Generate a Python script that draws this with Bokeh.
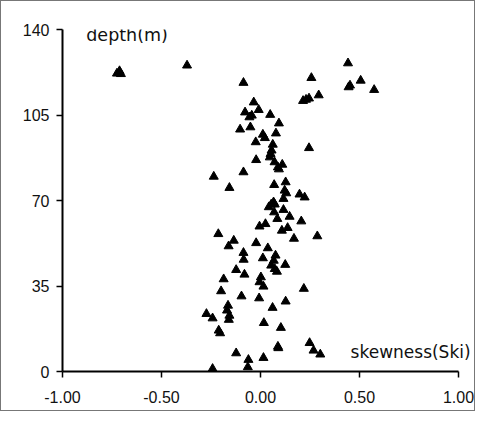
from bokeh.plotting import figure
from bokeh.models import Range1d, FixedTicker, Label, PrintfTickFormatter
from bokeh.embed import file_html
from bokeh.resources import INLINE

# skewness (Ski) values and their depth (m)
skew = [-0.725, -0.712, -0.705, -0.371, 0.442, 0.257, 0.506, 0.452, 0.445, 0.574,
        -0.086, 0.294, 0.215, 0.230, 0.245, -0.034, -0.078, -0.009, -0.056, -0.044,
        0.049, 0.093, -0.103, -0.051, 0.078, 0.012, 0.022, -0.024, 0.062, 0.245,
        0.056, 0.051, 0.047, -0.022, 0.071, 0.088, 0.110, 0.093, -0.236, -0.086,
        -0.157, 0.069, 0.127, 0.122, 0.130, 0.116, 0.197, 0.223, 0.066, 0.054,
        0.042, 0.072, 0.116, 0.069, 0.085, 0.147, 0.206, -0.005, 0.025, 0.108,
        0.137, -0.213, 0.287, 0.169, -0.135, -0.161, -0.022, 0.037, -0.086, -0.085,
        0.076, 0.067, 0.012, 0.054, 0.072, 0.083, 0.125, -0.123, -0.081, -0.186,
        0.002, -0.005, 0.015, 0.219, -0.199, -0.096, -0.007, 0.127, -0.164, -0.169,
        -0.157, -0.160, 0.061, -0.273, -0.242, 0.017, 0.103, -0.211, -0.204, 0.248,
        0.268, 0.302, 0.088, 0.090, -0.123, 0.015, -0.061, -0.064, -0.242]
depth = [122.0, 123.0, 121.8, 125.3, 126.2, 120.2, 119.1, 117.1, 116.4, 115.3,
         118.2, 113.1, 110.8, 111.3, 111.8, 110.2, 106.1, 107.1, 104.1, 104.8,
         105.1, 101.6, 99.1, 100.0, 97.5, 97.0, 95.6, 93.9, 92.9, 91.5,
         90.5, 89.1, 87.7, 86.6, 85.7, 83.6, 84.7, 82.8, 79.8, 81.6,
         75.2, 76.4, 77.5, 74.1, 73.0, 70.7, 72.5, 71.3, 69.3, 68.4,
         67.3, 68.4, 66.2, 65.2, 62.5, 63.4, 61.5, 59.4, 60.4, 57.7,
         58.8, 56.3, 55.4, 54.4, 53.6, 51.3, 52.6, 50.5, 48.6, 45.8,
         47.5, 45.4, 46.4, 43.4, 42.0, 40.9, 43.7, 41.6, 39.7, 37.8,
         38.6, 36.6, 34.8, 33.9, 32.9, 30.8, 30.0, 28.7, 27.0, 25.0,
         22.9, 21.2, 26.1, 23.6, 21.8, 19.9, 17.9, 16.8, 15.7, 11.7,
         8.6, 7.0, 10.2, 9.6, 7.5, 5.6, 4.8, 1.8, 1.1]

x_ticks = [-1.0, -0.5, 0.0, 0.5, 1.0]
y_ticks = [0, 35, 70, 105, 140]
y_title = "depth(m)"
x_title = "skewness(Ski)"

p = figure(width=475, height=411, x_range=Range1d(-1, 1.0758), y_range=Range1d(0, 140),
           output_backend="svg", toolbar_location=None,
           min_border_left=61, min_border_right=3, min_border_top=28, min_border_bottom=41)
p.styles = {"border": "1px solid #777777"}
p.outline_line_color = None
p.grid.visible = False
p.background_fill_color = "white"
p.border_fill_color = "white"

p.scatter(skew, depth, marker="triangle", size=9, color="black")

p.xaxis.ticker = FixedTicker(ticks=x_ticks)
p.xaxis.formatter = PrintfTickFormatter(format="%.2f")
p.xaxis.bounds = (-1, 1)
p.yaxis.ticker = FixedTicker(ticks=y_ticks)
for ax in (p.xaxis, p.yaxis):
    ax.axis_line_width = 2
    ax.axis_line_color = "black"
    ax.major_tick_line_width = 1.5
    ax.major_tick_line_color = "black"
    ax.major_tick_out = 6
    ax.major_tick_in = 0
    ax.minor_tick_line_color = None
    ax.major_label_text_font = "Liberation Sans"
    ax.major_label_text_font_size = "16px"
    ax.major_label_text_color = "#111111"
p.xaxis.major_label_standoff = 13
p.yaxis.major_label_standoff = 7

p.add_layout(Label(x=-0.880, y=137.8, text=y_title, text_font="DejaVu Sans",
                   text_font_size="17.5px", text_color="#111111", text_baseline="alphabetic"))
p.add_layout(Label(x=0.455, y=7.9, text=x_title, text_font="DejaVu Sans",
                   text_font_size="17px", text_color="#111111", text_baseline="alphabetic"))

open("out.html", "w").write(file_html(p, INLINE))
